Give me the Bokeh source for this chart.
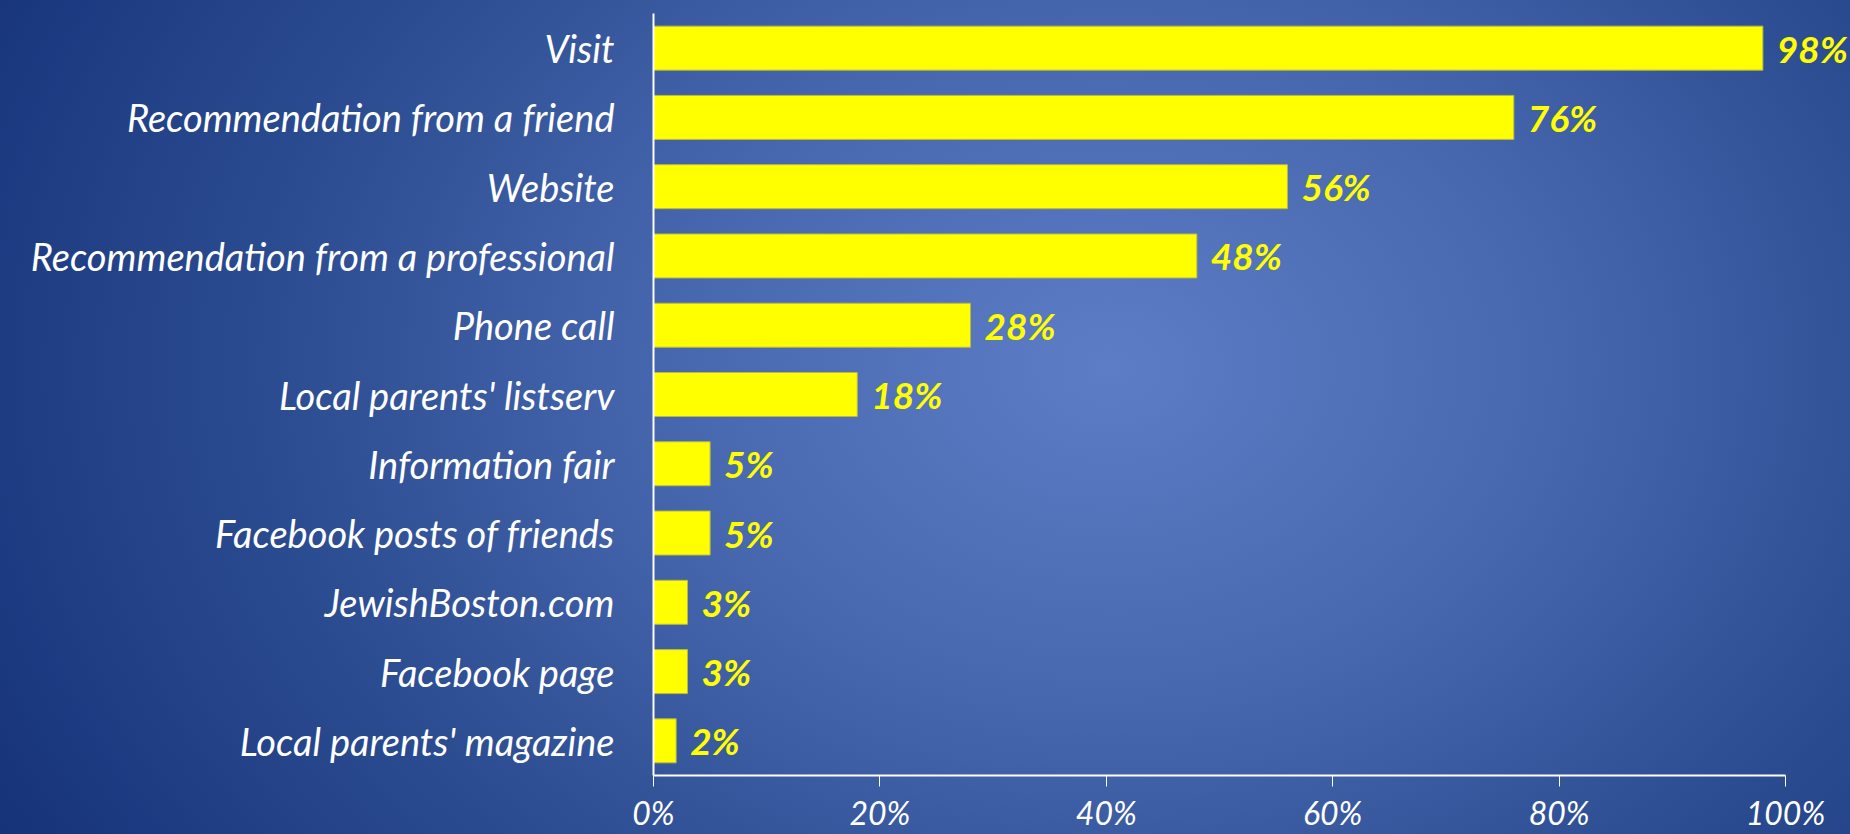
from bokeh.plotting import figure
from bokeh.models import Range1d, FixedTicker, InlineStyleSheet, ColumnDataSource
from bokeh.core.properties import value
from bokeh.embed import file_html
from bokeh.resources import INLINE

categories = ["Visit", "Recommendation from a friend", "Website",
              "Recommendation from a professional", "Phone call",
              "Local parents' listserv", "Information fair",
              "Facebook posts of friends", "JewishBoston.com",
              "Facebook page", "Local parents' magazine"]
values = [98, 76, 56, 48, 28, 18, 5, 5, 3, 3, 2]
value_labels = ["98%", "76%", "56%", "48%", "28%", "18%", "5%", "5%", "3%", "3%", "2%"]
x_ticks = [0, 20, 40, 60, 80, 100]
x_tick_labels = ["0%", "20%", "40%", "60%", "80%", "100%"]

src = ColumnDataSource(dict(cat=categories, val=values, lab=value_labels))

gradient = InlineStyleSheet(css=""":host {
  background: radial-gradient(ellipse 68% 115% at 60% 44%, #5d7dc6 0%, #4868b0 33%, #2b4b90 68%, #16337a 100%);
}""")

W, H = 1850, 834
LEFT, TOP, BOTTOM = 653, 13, 58
frame_w = W - LEFT
x_end = 100.0 * frame_w / 1132.0

p = figure(width=W, height=H, y_range=list(reversed(categories)),
           x_range=Range1d(0, x_end), output_backend="svg", toolbar_location=None,
           min_border_left=LEFT, min_border_right=0, min_border_top=TOP,
           min_border_bottom=BOTTOM)
p.stylesheets = [gradient]
p.background_fill_color = None
p.border_fill_color = None
p.outline_line_color = None
p.grid.visible = False

p.hbar(y="cat", right="val", left=0, height=0.635, source=src,
       fill_color="#FFFF00", line_color="#b8b84a", line_width=1)

p.text(x="val", y="cat", text="lab", source=src, x_offset=14,
       text_baseline="middle", text_align="left", text_color="#FFFF00",
       text_font=value("Lato"), text_font_size="37px",
       text_font_style="bold italic")

xa = p.xaxis[0]
xa.bounds = (0, 100)
xa.ticker = FixedTicker(ticks=x_ticks)
xa.major_label_overrides = {t: l for t, l in zip(x_ticks, x_tick_labels)}
xa.axis_line_color = "white"
xa.axis_line_width = 2
xa.major_tick_line_color = "white"
xa.major_tick_line_width = 1
xa.major_tick_in = 0
xa.major_tick_out = 11
xa.minor_tick_line_color = None
xa.major_label_text_color = "white"
xa.major_label_text_font = "Lato"
xa.major_label_text_font_style = "italic"
xa.major_label_text_font_size = "32px"
xa.major_label_standoff = 6

ya = p.yaxis[0]
ya.axis_line_color = "white"
ya.axis_line_width = 2
ya.major_tick_line_color = None
ya.minor_tick_line_color = None
ya.major_label_text_color = "white"
ya.major_label_text_font = "Lato"
ya.major_label_text_font_style = "italic"
ya.major_label_text_font_size = "38px"
ya.major_label_standoff = 33

html = file_html(p, INLINE)
html = html.replace("<body>", '<body style="background:#1a377c;">', 1)
open("out.html", "w").write(html)
